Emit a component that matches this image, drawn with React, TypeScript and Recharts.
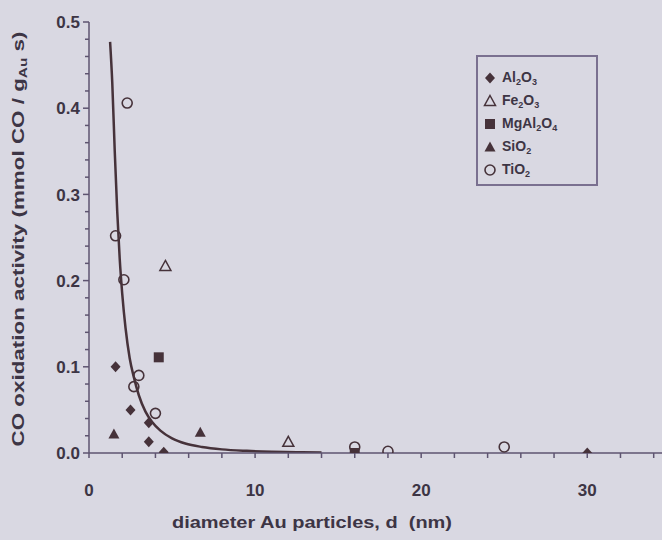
import { ComposedChart, Scatter, Line, XAxis, YAxis, Legend } from "recharts";

// particle size (nm) and CO oxidation activity
const al2o3X = [1.6, 2.5, 3.6, 3.6, 4.5, 30];
const al2o3Y = [0.1, 0.05, 0.035, 0.013, 0.001, 0];
const fe2o3X = [4.6, 12];
const fe2o3Y = [0.217, 0.013];
const mgal2o4X = [4.2, 16];
const mgal2o4Y = [0.111, 0.0];
const sio2X = [1.5, 6.7];
const sio2Y = [0.022, 0.024];
const tio2X = [2.3, 1.6, 2.1, 3.0, 2.7, 4.0, 16, 18, 25];
const tio2Y = [0.406, 0.252, 0.201, 0.09, 0.077, 0.046, 0.007, 0.002, 0.007];

// fitted trend line
const fitX = [1.27, 1.4, 1.55, 1.7, 1.85, 2.0, 2.2, 2.45, 2.7, 3.0, 3.4, 3.8, 4.3, 5.0, 5.8, 6.8, 8, 9.5, 11, 12.5, 14];
const fitY = [0.477, 0.43, 0.35, 0.28, 0.225, 0.185, 0.145, 0.11, 0.088, 0.067, 0.048, 0.036, 0.026, 0.017, 0.011, 0.007, 0.0042, 0.0025, 0.0015, 0.001, 0.0006];

const xTicks = [0, 2, 4, 6, 8, 10, 12, 14, 16, 18, 20, 22, 24, 26, 28, 30, 32, 34];
const yTicks = [0, 0.02, 0.04, 0.06, 0.08, 0.1, 0.12, 0.14, 0.16, 0.18, 0.2, 0.22, 0.24, 0.26, 0.28, 0.3, 0.32, 0.34, 0.36, 0.38, 0.4, 0.42, 0.44, 0.46, 0.48, 0.5];

const zip = (xs: number[], ys: number[]) => xs.map((x, i) => ({ x, y: ys[i] }));

const bg = "#d9d8e2";
const ink = "#46323a";
const axisColor = "#5e5470";
const textColor = "#3d3545";
const font = "'Liberation Sans', Arial, sans-serif";

const Diamond = ({ cx, cy }: any) => (
  <polygon points={`${cx},${cy - 5.5} ${cx + 5},${cy} ${cx},${cy + 5.5} ${cx - 5},${cy}`} fill={ink} />
);
const OpenTri = ({ cx, cy }: any) => (
  <polygon points={`${cx},${cy - 5.5} ${cx + 5.5},${cy + 4.5} ${cx - 5.5},${cy + 4.5}`} fill="none" stroke={ink} strokeWidth={1.5} />
);
const FillTri = ({ cx, cy }: any) => (
  <polygon points={`${cx},${cy - 5.5} ${cx + 5.5},${cy + 4.5} ${cx - 5.5},${cy + 4.5}`} fill={ink} />
);
const Square = ({ cx, cy }: any) => <rect x={cx - 5} y={cy - 5} width={10} height={10} fill={ink} />;
const OpenCircle = ({ cx, cy }: any) => <circle cx={cx} cy={cy} r={5} fill="none" stroke={ink} strokeWidth={1.6} />;

const XTick = ({ x, y, payload }: any) => {
  const v = payload.value;
  return (
    <g>
      <line x1={x} x2={x} y1={y} y2={y + 5} stroke={axisColor} strokeWidth={1.5} />
      {v % 10 === 0 && (
        <text x={x} y={y + 43} textAnchor="middle" fill={textColor} fontSize={17} fontWeight="bold" fontFamily={font}>
          {v}
        </text>
      )}
    </g>
  );
};

const YTick = ({ x, y, payload }: any) => {
  const v = payload.value;
  const major = Math.abs(v * 10 - Math.round(v * 10)) < 1e-6;
  return (
    <g>
      <line x1={x - (major ? 6 : 4)} x2={x} y1={y} y2={y} stroke={axisColor} strokeWidth={1.5} />
      {major && (
        <text x={x - 9} y={y} dy="0.36em" textAnchor="end" fill={textColor} fontSize={17} fontWeight="bold" fontFamily={font}>
          {v.toFixed(1)}
        </text>
      )}
    </g>
  );
};

const legendItems = [
  { name: "Al", sub1: "2", mid: "O", sub2: "3", Icon: Diamond },
  { name: "Fe", sub1: "2", mid: "O", sub2: "3", Icon: OpenTri },
  { name: "MgAl", sub1: "2", mid: "O", sub2: "4", Icon: Square },
  { name: "SiO", sub1: "2", mid: "", sub2: "", Icon: FillTri },
  { name: "TiO", sub1: "2", mid: "", sub2: "", Icon: OpenCircle },
];

const subStyle = { fontSize: 9, verticalAlign: "-3px" } as const;

const LegendBox = () => (
  <div style={{ border: `2px solid #7a7090`, background: bg, padding: "9px 0 6px 5px", boxSizing: "border-box", width: 122, height: 131 }}>
    {legendItems.map(({ name, sub1, mid, sub2, Icon }) => (
      <div key={name} style={{ display: "flex", alignItems: "center", height: 23, fontFamily: font, fontWeight: "bold", fontSize: 14, color: textColor }}>
        <svg width={14} height={14} style={{ marginRight: 5 }}>
          <Icon cx={7} cy={7} />
        </svg>
        <span>
          {name}
          <span style={subStyle}>{sub1}</span>
          {mid}
          {sub2 && <span style={subStyle}>{sub2}</span>}
        </span>
      </div>
    ))}
  </div>
);

export default function App() {
  return (
    <div style={{ position: "absolute", left: 0, top: 0, width: 662, height: 540, background: bg }}>
      <ComposedChart width={662} height={540} margin={{ top: 22, right: 0, bottom: 0, left: 0 }}>
        <XAxis
          type="number"
          dataKey="x"
          domain={[0, 34.5]}
          ticks={xTicks}
          interval={0}
          height={87}
          tickSize={0}
          tickMargin={0}
          tick={XTick}
          stroke={axisColor}
          strokeWidth={1.5}
          allowDataOverflow
          label={{
            content: () => (
              <text
                x={312}
                y={528}
                textAnchor="middle"
                textLength={280}
                lengthAdjust="spacingAndGlyphs"
                fill={textColor}
                fontSize={16}
                fontWeight="bold"
                fontFamily={font}
                style={{ whiteSpace: "pre" }}
              >
                {"diameter Au particles, d  (nm)"}
              </text>
            ),
          }}
        />
        <YAxis
          type="number"
          dataKey="y"
          domain={[0, 0.5]}
          ticks={yTicks}
          interval={0}
          width={89}
          tickSize={0}
          tickMargin={0}
          tick={YTick}
          stroke={axisColor}
          strokeWidth={1.5}
          allowDataOverflow
          label={{
            content: () => (
              <text
                x={18}
                y={239}
                transform="rotate(-90 18 239)"
                dy="0.36em"
                textAnchor="middle"
                textLength={415}
                lengthAdjust="spacingAndGlyphs"
                fill={textColor}
                fontSize={16}
                fontWeight="bold"
                fontFamily={font}
              >
                CO oxidation activity (mmol CO / g<tspan fontSize={11} dy={3}>Au</tspan>
                <tspan dy={-3}> s)</tspan>
              </text>
            ),
          }}
        />
        <Legend
          layout="horizontal"
          verticalAlign="middle"
          align="center"
          content={() => <LegendBox />}
          wrapperStyle={{ left: 476, top: 55, width: 122, height: 131 }}
        />
        <Scatter name="Al2O3" data={zip(al2o3X, al2o3Y)} shape={Diamond} isAnimationActive={false} />
        <Scatter name="Fe2O3" data={zip(fe2o3X, fe2o3Y)} shape={OpenTri} isAnimationActive={false} />
        <Scatter name="MgAl2O4" data={zip(mgal2o4X, mgal2o4Y)} shape={Square} isAnimationActive={false} />
        <Scatter name="SiO2" data={zip(sio2X, sio2Y)} shape={FillTri} isAnimationActive={false} />
        <Scatter name="TiO2" data={zip(tio2X, tio2Y)} shape={OpenCircle} isAnimationActive={false} />
        <Line
          data={zip(fitX, fitY)}
          dataKey="y"
          type="monotone"
          stroke={ink}
          strokeWidth={2.5}
          dot={false}
          activeDot={false}
          isAnimationActive={false}
        />
      </ComposedChart>
    </div>
  );
}
